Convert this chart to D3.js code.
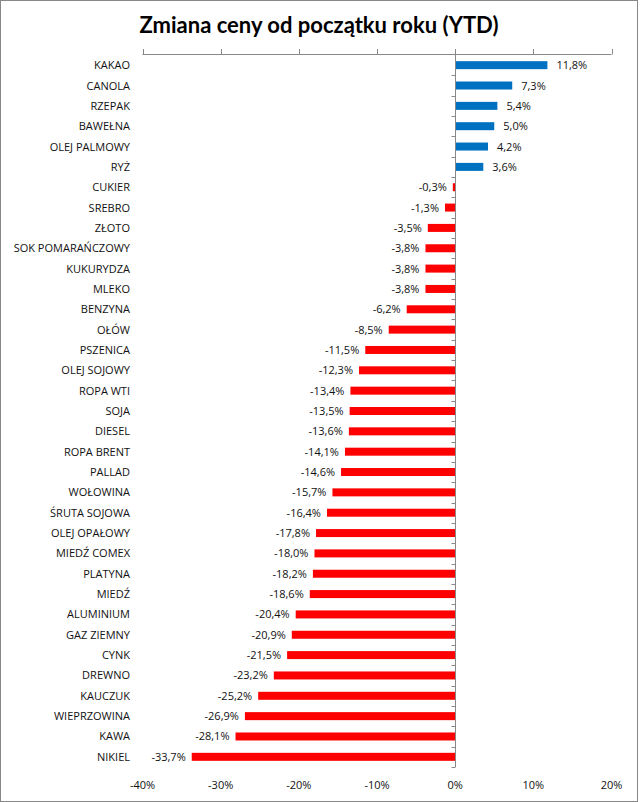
<!DOCTYPE html>
<html><head><meta charset="utf-8">
<script src="https://cdn.jsdelivr.net/npm/d3@7/dist/d3.min.js"></script>
<style>body{margin:0;background:#fff}svg{display:block}</style>
</head><body>
<script>
const categories = ["KAKAO","CANOLA","RZEPAK","BAWEŁNA","OLEJ PALMOWY","RYŻ","CUKIER","SREBRO","ZŁOTO","SOK POMARAŃCZOWY","KUKURYDZA","MLEKO","BENZYNA","OŁÓW","PSZENICA","OLEJ SOJOWY","ROPA WTI","SOJA","DIESEL","ROPA BRENT","PALLAD","WOŁOWINA","ŚRUTA SOJOWA","OLEJ OPAŁOWY","MIEDŹ COMEX","PLATYNA","MIEDŹ","ALUMINIUM","GAZ ZIEMNY","CYNK","DREWNO","KAUCZUK","WIEPRZOWINA","KAWA","NIKIEL"];
const values = [11.8,7.3,5.4,5.0,4.2,3.6,-0.3,-1.3,-3.5,-3.8,-3.8,-3.8,-6.2,-8.5,-11.5,-12.3,-13.4,-13.5,-13.6,-14.1,-14.6,-15.7,-16.4,-17.8,-18.0,-18.2,-18.6,-20.4,-20.9,-21.5,-23.2,-25.2,-26.9,-28.1,-33.7];
const xTicks = [-40,-30,-20,-10,0,10,20];
const title = "Zmiana ceny od początku roku (YTD)";

const W = 640, H = 802;
const svg = d3.select("body").append("svg").attr("width", W).attr("height", H);
svg.append("rect").attr("x",0.5).attr("y",0.5).attr("width",W-3).attr("height",H-1)
  .attr("fill","#fff").attr("stroke","#888").attr("stroke-width",1);

svg.append("text").attr("x",319).attr("y",33).attr("text-anchor","middle")
  .attr("font-family","Lato, 'Open Sans', sans-serif").attr("font-weight","bold")
  .attr("font-size",22).attr("fill","#000").text(title);

const x = d3.scaleLinear().domain([-40,20]).range([142.5,611.5]);
const yEdge = d3.scaleBand().domain(categories).range([55,767]);
const font = "'Open Sans', 'Liberation Sans', sans-serif";

// top horizontal axis line with ticks pointing up
const gx = svg.append("g");
gx.append("line").attr("x1",x(-40)).attr("x2",x(20)).attr("y1",54.5).attr("y2",54.5).attr("stroke","#888");
gx.selectAll("line.t").data(xTicks).join("line").attr("class","t")
  .attr("x1",d=>Math.round(x(d))+0.5).attr("x2",d=>Math.round(x(d))+0.5).attr("y1",49).attr("y2",54.5).attr("stroke","#888");
// tick labels at bottom
svg.selectAll("text.xl").data(xTicks).join("text").attr("class","xl")
  .attr("x",d=>x(d)).attr("y",789).attr("text-anchor","middle")
  .attr("font-family",font).attr("font-size",11).attr("fill","#111")
  .text(d=>d+"%");

// bars
svg.selectAll("rect.bar").data(values).join("rect").attr("class","bar")
  .attr("x",(d)=>x(Math.min(0,d)))
  .attr("width",d=>Math.abs(x(d)-x(0)))
  .attr("y",(d,i)=>yEdge(categories[i]) + yEdge.bandwidth()/2 - 4)
  .attr("height",8)
  .attr("fill",d=>d>=0?"#0070C0":"#FF0000");

// vertical axis at 0
const x0 = Math.round(x(0))+0.5;
svg.append("line").attr("x1",x0).attr("x2",x0).attr("y1",54.5).attr("y2",767).attr("stroke","#888");
svg.selectAll("line.yt").data(categories).join("line").attr("class","yt")
  .attr("x1",x0-4).attr("x2",x0)
  .attr("y1",d=>Math.round(yEdge(d)+yEdge.bandwidth())+0.5)
  .attr("y2",d=>Math.round(yEdge(d)+yEdge.bandwidth())+0.5)
  .attr("stroke","#888");

// category labels
svg.selectAll("text.cl").data(categories).join("text").attr("class","cl")
  .attr("x",130).attr("y",d=>yEdge(d)+yEdge.bandwidth()/2+4)
  .attr("text-anchor","end").attr("font-family",font).attr("font-size",11).attr("fill","#111")
  .text(d=>d);

// value labels
const fmt = v => (v<0?"-":"") + Math.abs(v).toFixed(1).replace(".",",") + "%";
svg.selectAll("text.vl").data(values).join("text").attr("class","vl")
  .attr("x",d=> d>=0 ? x(d)+9 : x(d)-6)
  .attr("y",(d,i)=>yEdge(categories[i])+yEdge.bandwidth()/2+4)
  .attr("text-anchor",d=>d>=0?"start":"end")
  .attr("font-family",font).attr("font-size",11).attr("fill","#111")
  .text(fmt);
</script>
</body></html>
